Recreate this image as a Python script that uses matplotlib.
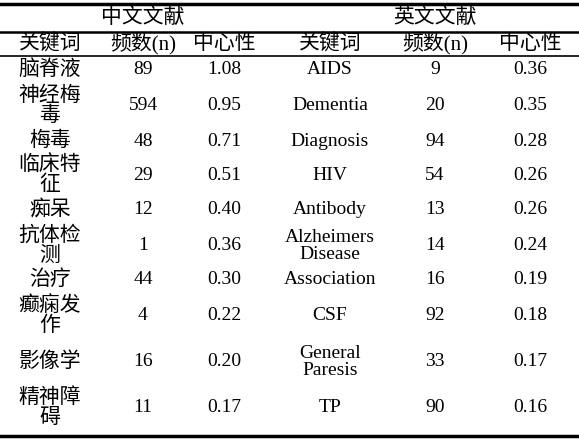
import matplotlib
matplotlib.use("Agg")
import matplotlib.pyplot as plt
from matplotlib.lines import Line2D

cn_kw = ["脑脊液", "神经梅\n毒", "梅毒", "临床特\n征", "痴呆", "抗体检\n测", "治疗", "癫痫发\n作", "影像学", "精神障\n碍"]
cn_freq = [89, 594, 48, 29, 12, 1, 44, 4, 16, 11]
cn_cent = ["1.08", "0.95", "0.71", "0.51", "0.40", "0.36", "0.30", "0.22", "0.20", "0.17"]
en_kw = ["AIDS", "Dementia", "Diagnosis", "HIV", "Antibody", "Alzheimers\nDisease", "Association", "CSF", "General\nParesis", "TP"]
en_freq = [9, 20, 94, 54, 13, 14, 16, 92, 33, 90]
en_cent = ["0.36", "0.35", "0.28", "0.26", "0.26", "0.24", "0.19", "0.18", "0.17", "0.16"]
headers = ["关键词", "频数(n)", "中心性", "关键词", "频数(n)", "中心性"]

W, H = 579, 441
fig = plt.figure(figsize=(W/100, H/100), dpi=100)
ax = fig.add_axes([0, 0, 1, 1])
ax.set_xlim(0, W); ax.set_ylim(H, 0); ax.axis("off")
fam = ["Liberation Serif", "Noto Sans CJK SC"]
xs = [50, 143, 224, 330, 435, 530]
rows_y = [70, 106, 141, 175, 210, 246, 280, 316, 362, 408]

def t(x, y, s, size):
    ax.text(x, y, s, ha="center", va="center", family=fam, fontsize=size,
            linespacing=1.05, fontweight="light")

t(143, 18, "中文文献", 15); t(435, 18, "英文文献", 15)
for x, h in zip(xs, headers):
    t(x, 44, h, 15)
for i, y in enumerate(rows_y):
    vals = [cn_kw[i], str(cn_freq[i]), cn_cent[i], en_kw[i], str(en_freq[i]), en_cent[i]]
    for j, (x, v) in enumerate(zip(xs, vals)):
        t(x, y, v, 15 if j == 0 else 14)

for y, lw in [(4, 2.5), (32, 1.8), (56, 1.2), (436, 2.5)]:
    ax.add_line(Line2D([0, W], [y, y], color="black", lw=lw))
fig.savefig("out.png", dpi=100)
